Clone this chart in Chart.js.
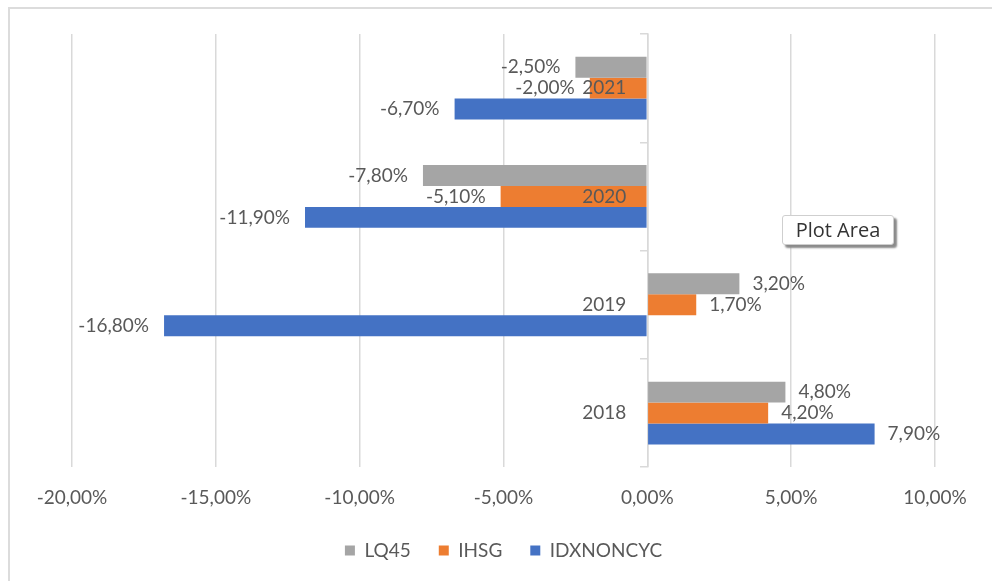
<!DOCTYPE html>
<html>
<head>
<meta charset="utf-8">
<script src="https://cdn.jsdelivr.net/npm/chart.js@4"></script>
<style>
  html, body { margin: 0; padding: 0; background: #fff; }
  #wrap { position: relative; width: 992px; height: 581px; overflow: hidden; }
  #frame { position: absolute; left: 8px; top: 7px; width: 1000px; height: 600px;
    border-top: 2px solid #dcdcdc; border-left: 2px solid #dcdcdc; }
  #box { position: absolute; left: 0; top: 0; width: 992px; height: 581px; }
  #tip { position: absolute; left: 782px; top: 215px; width: 110px; height: 28px;
    background: #fff; border: 1px solid #cfcfcf; border-radius: 3px;
    box-shadow: 3px 3px 2px #8a8a8a; font: 20px 'Open Sans', sans-serif; color: #333;
    line-height: 28px; text-align: center; }
</style>
</head>
<body>
<div id="wrap">
  <div id="frame"></div>
  <div id="box"><canvas id="chart"></canvas></div>
  <div id="tip">Plot Area</div>
</div>
<script>
'use strict';

const years = ['2021', '2020', '2019', '2018'];
const lq45 = [-2.5, -7.8, 3.2, 4.8];
const ihsg = [-2.0, -5.1, 1.7, 4.2];
const idxNonCyc = [-6.7, -11.9, -16.8, 7.9];
const xTicks = [-20, -15, -10, -5, 0, 5, 10];

const textColor = '#595959';
const gridColor = '#d9d9d9';
const font = { family: 'Lato, Carlito, sans-serif', size: 19 };

function pct(v) {
  return v.toFixed(2).replace('.', ',') + '%';
}

// value labels at the end of each bar, and year labels beside the zero axis (drawn over bars like Excel)
const barLabels = {
  id: 'barLabels',
  afterDatasetsDraw(chart) {
    const ctx = chart.ctx;
    ctx.save();
    ctx.font = font.size + 'px ' + font.family;
    ctx.fillStyle = textColor;
    ctx.textBaseline = 'middle';
    chart.data.datasets.forEach((ds, i) => {
      chart.getDatasetMeta(i).data.forEach((bar, j) => {
        const v = ds.data[j];
        if (v >= 0) {
          ctx.textAlign = 'left';
          ctx.fillText(pct(v), bar.x + 13, bar.y);
        } else {
          ctx.textAlign = 'right';
          ctx.fillText(pct(v), bar.x - 15, bar.y);
        }
      });
    });
    const x0 = chart.scales.x.getPixelForValue(0);
    const yScale = chart.scales.y;
    ctx.textAlign = 'right';
    years.forEach((yr, i) => {
      ctx.fillText(yr, x0 - 21, yScale.getPixelForValue(i));
    });
    ctx.restore();
  }
};

new Chart(document.getElementById('chart'), {
  type: 'bar',
  data: {
    labels: years,
    datasets: [
      { label: 'LQ45', data: lq45, backgroundColor: '#a5a5a5' },
      { label: 'IHSG', data: ihsg, backgroundColor: '#ed7d31' },
      { label: 'IDXNONCYC', data: idxNonCyc, backgroundColor: '#4472c4' }
    ]
  },
  options: {
    indexAxis: 'y',
    responsive: true,
    maintainAspectRatio: false,
    animation: false,
    categoryPercentage: 0.58,
    barPercentage: 1,
    layout: { padding: { left: 72, right: 57, top: 34, bottom: 11 } },
    scales: {
      x: {
        min: -20,
        max: 10,
        afterBuildTicks: (axis) => { axis.ticks = xTicks.map(v => ({ value: v })); },
        afterFit: (axis) => { axis.height -= 15; },
        grid: { color: gridColor, lineWidth: 1.5, drawTicks: false },
        border: { display: false },
        ticks: { color: textColor, font: font, padding: 19, callback: (v) => pct(v) }
      },
      y: {
        position: { x: 0 },
        grid: { drawOnChartArea: false, color: gridColor, lineWidth: 1.5, tickLength: 7, offset: true },
        border: { color: gridColor, width: 1.5 },
        ticks: { display: false }
      }
    },
    plugins: {
      legend: {
        position: 'bottom',
        labels: { color: textColor, font: font, boxWidth: 10, boxHeight: 10, padding: 28 }
      },
      tooltip: { enabled: false }
    }
  },
  plugins: [barLabels]
});
</script>
</body>
</html>
